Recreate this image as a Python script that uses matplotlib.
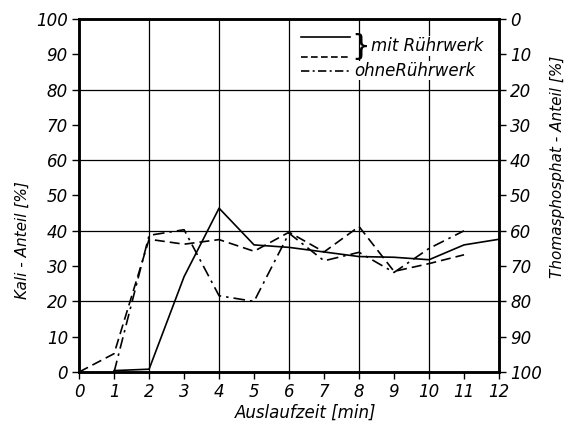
import matplotlib
matplotlib.use("Agg")
import matplotlib.pyplot as plt

# Auslaufzeit [min]
zeit = [0, 1, 2, 3, 4, 5, 6, 7, 8, 9, 10, 11, 12]

# mit Ruehrwerk (solid), starts at 1 min
zeit_solid = [1, 2, 3, 4, 5, 6, 7, 8, 9, 10, 11, 12]
kali_solid = [0.4, 0.8, 27, 46.4, 36, 35.3, 34, 32.7, 32.5, 31.8, 36, 37.6]

# mit Ruehrwerk (dashed), ends at 11 min
zeit_dash = [0, 1, 2, 3, 4, 5, 6, 7, 8, 9, 10, 11]
kali_dash = [0, 5.2, 37.6, 36.2, 37.5, 34.2, 39.6, 34, 41.2, 28.5, 30.7, 33.2]

# ohne Ruehrwerk (dash-dot)
zeit_dd = [1, 2, 3, 4, 5, 6, 7, 8, 9, 10, 11]
kali_dd = [0, 38.7, 40.3, 21.6, 20, 39.3, 31.5, 33.9, 28.2, 35, 40]

yticks = list(range(0, 101, 10))

plt.rcParams['font.family'] = ['DejaVu Sans']
fs = 12

fig = plt.figure(figsize=(5.69, 4.40), dpi=100)
ax = fig.add_axes([0.139, 0.1545, 0.738, 0.8025])

# grid every 2 min / 20 %
for gx in [2, 4, 6, 8, 10]:
    ax.axvline(gx, color='black', lw=0.9, zorder=1)
for gy in [20, 40, 60, 80]:
    ax.axhline(gy, color='black', lw=0.9, zorder=1)

ax.plot(zeit_solid, kali_solid, color='black', lw=1.2, zorder=3)
ax.plot(zeit_dash, kali_dash, color='black', lw=1.2, dashes=(6, 3), zorder=3)
ax.plot(zeit_dd, kali_dd, color='black', lw=1.2, dashes=(7, 3, 1.5, 3), zorder=3)

ax.set_xlim(0, 12)
ax.set_ylim(0, 100)
ax.set_xticks(zeit)
ax.set_yticks(yticks)
ax.tick_params(direction='out', length=5, width=1, labelsize=fs, pad=3)
for lab in ax.get_xticklabels() + ax.get_yticklabels():
    lab.set_fontstyle('italic')
for sp in ax.spines.values():
    sp.set_linewidth(1.8)

ax.set_xlabel('Auslaufzeit [min]', fontsize=fs, fontstyle='italic')
ax.xaxis.set_label_coords(0.54, -0.09)
ax.set_ylabel('Kali - Anteil [%]', fontsize=fs - 1, fontstyle='italic')
ax.yaxis.set_label_coords(-0.117, 0.375)

ax2 = ax.twinx()
ax2.set_ylim(100, 0)
ax2.set_yticks(yticks)
ax2.tick_params(direction='out', length=5, width=1, labelsize=fs, pad=3)
for lab in ax2.get_yticklabels():
    lab.set_fontstyle('italic')
ax2.set_ylabel('Thomasphosphat - Anteil [%]', fontsize=fs - 1, fontstyle='italic')
ax2.yaxis.set_label_coords(1.121, 0.58)
for sp in ax2.spines.values():
    sp.set_linewidth(1.8)

# hand-drawn style legend in the upper right corner
ax.plot([6.34, 7.75], [95, 95], color='black', lw=1.2, zorder=4)
ax.plot([6.34, 7.75], [89.2, 89.2], color='black', lw=1.2, dashes=(4, 2), zorder=4)
ax.plot([6.34, 7.75], [85.3, 85.3], color='black', lw=1.2, dashes=(5, 2, 1.2, 2), zorder=4)
ax.text(7.78, 92.0, '}', fontsize=21, va='center', ha='left', zorder=5)
ax.text(8.35, 92.3, 'mit Rührwerk', fontsize=fs, fontstyle='italic', va='center', ha='left', zorder=5,
        bbox=dict(facecolor='white', edgecolor='none', pad=0.5))
ax.text(7.85, 85.3, 'ohneRührwerk', fontsize=fs, fontstyle='italic', va='center', ha='left', zorder=5,
        bbox=dict(facecolor='white', edgecolor='none', pad=0.5))

fig.savefig('out.png', dpi=100)
